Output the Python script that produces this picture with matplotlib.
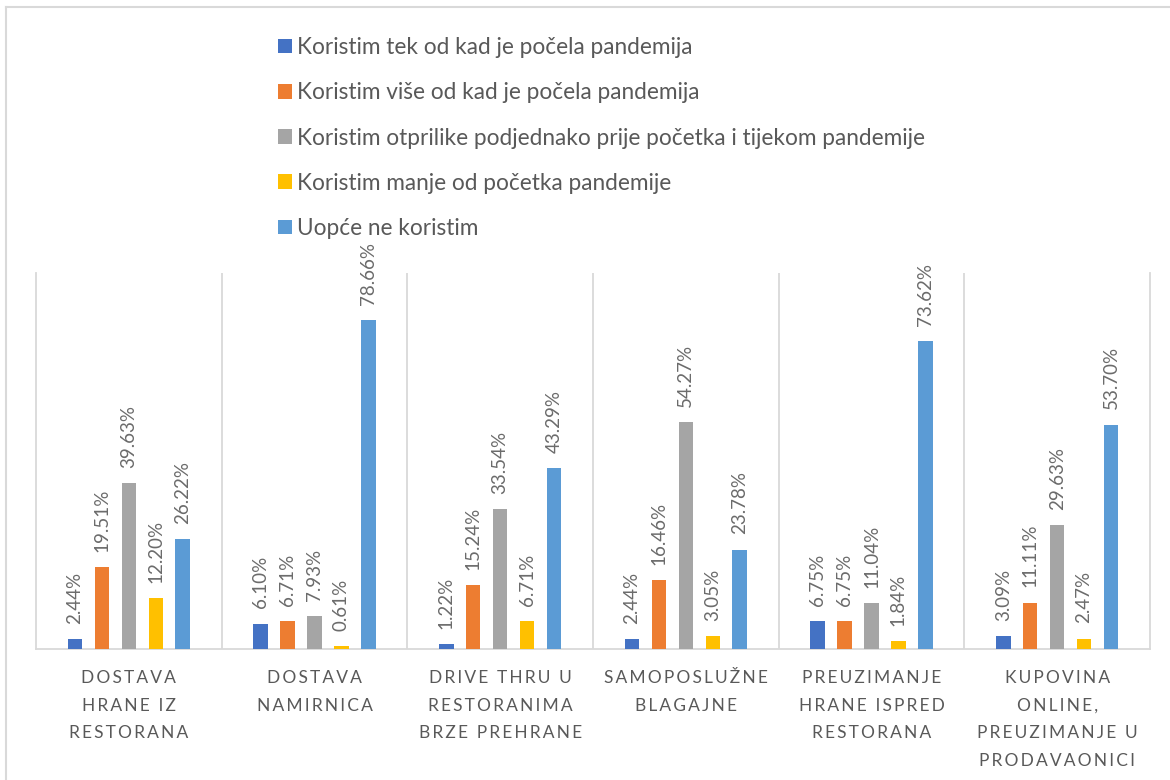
import matplotlib
matplotlib.use("Agg")
import matplotlib.pyplot as plt
from matplotlib.lines import Line2D
from matplotlib.patches import Patch

plt.rcParams['font.family'] = ['Lato', 'DejaVu Sans']

# Podaci
categories = [
    "DOSTAVA\nHRANE IZ\nRESTORANA",
    "DOSTAVA\nNAMIRNICA",
    "DRIVE THRU U\nRESTORANIMA\nBRZE PREHRANE",
    "SAMOPOSLUŽNE\nBLAGAJNE",
    "PREUZIMANJE\nHRANE ISPRED\nRESTORANA",
    "KUPOVINA\nONLINE,\nPREUZIMANJE U\nPRODAVAONICI",
]
series_names = [
    "Koristim tek od kad je počela pandemija",
    "Koristim više od kad je počela pandemija",
    "Koristim otprilike podjednako prije početka i tijekom pandemije",
    "Koristim manje od početka pandemije",
    "Uopće ne koristim",
]
tek_od_pandemije = [2.44, 6.10, 1.22, 2.44, 6.75, 3.09]
vise_od_pandemije = [19.51, 6.71, 15.24, 16.46, 6.75, 11.11]
podjednako = [39.63, 7.93, 33.54, 54.27, 11.04, 29.63]
manje = [12.20, 0.61, 6.71, 3.05, 1.84, 2.47]
uopce_ne = [26.22, 78.66, 43.29, 23.78, 73.62, 53.70]

series = [tek_od_pandemije, vise_od_pandemije, podjednako, manje, uopce_ne]
colors = ["#4472C4", "#ED7D31", "#A5A5A5", "#FFC000", "#5B9BD5"]
txt_color = "#595959"
grid_color = "#D9D9D9"

W, H = 1170, 780
fig = plt.figure(figsize=(W / 100, H / 100), dpi=100)
ax = fig.add_axes([36 / W, 1 - 649 / H, (1150 - 36) / W, (649 - 273) / H])

bar_w = 0.078
step = 0.145
n = len(categories)
for i, (vals, col) in enumerate(zip(series, colors)):
    xs = [c + (i - 2) * step for c in range(n)]
    ax.bar(xs, vals, bar_w, color=col, zorder=3)
    for x, v in zip(xs, vals):
        ax.annotate(f"{v:.2f}%", (x, v), xytext=(0, 11), textcoords="offset points",
                    rotation=90, ha="center", va="bottom", fontsize=13.5, color="#6b6b6b")

ax.set_xlim(-0.5, n - 0.5)
ax.set_ylim(0, 90)
ax.set_yticks([])

# razdjelnici kategorija
for b in range(1, n):
    ax.axvline(b - 0.5, color=grid_color, lw=1.3, zorder=1)
for s in ["left", "right", "bottom"]:
    ax.spines[s].set_color(grid_color)
    ax.spines[s].set_linewidth(1.3)
ax.spines["top"].set_visible(False)


def spaced(s):
    return "\n".join("\u2009".join(line) for line in s.split("\n"))


ax.set_xticks(range(n))
ax.set_xticklabels([spaced(c) for c in categories], fontsize=12.5, color=txt_color,
                   linespacing=1.9, va="top")
ax.tick_params(axis="x", length=0, pad=15)

handles = [Patch(facecolor=c, edgecolor="none") for c in colors]
fig.legend(handles, series_names, loc="upper left", bbox_to_anchor=(269 / W, 1 - 28 / H),
           frameon=False, fontsize=16.3, labelcolor=txt_color, handlelength=0.62,
           handleheight=0.62, handletextpad=0.22, labelspacing=1.07, borderaxespad=0)

# okvir grafikona
fig.add_artist(Line2D([6 / W, 6 / W], [0, 1 - 7 / H], color=grid_color, lw=1.5))
fig.add_artist(Line2D([6 / W, 1], [1 - 7 / H, 1 - 7 / H], color=grid_color, lw=1.5))

fig.savefig("out.png", dpi=100)
